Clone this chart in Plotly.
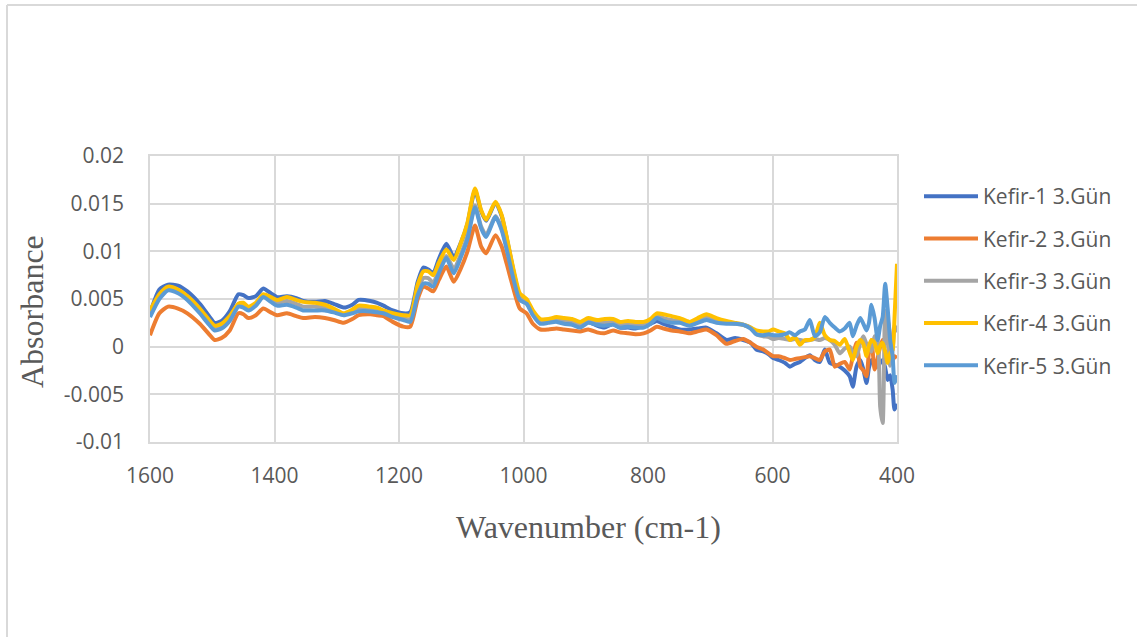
import plotly.graph_objects as go

# ---------------- data ----------------
wavenumber = [
    1600, 1585, 1571, 1555, 1540, 1520, 1505, 1496, 1485, 1472, 1458, 1450, 1442, 1430, 1418, 1406,
    1396, 1380, 1365, 1354, 1335, 1319, 1305, 1289, 1275, 1265, 1246, 1235, 1225, 1210, 1193, 1182,
    1170, 1161, 1153, 1145, 1136, 1124, 1112, 1100, 1090, 1078, 1068, 1060, 1045, 1035, 1027, 1015, 1006, 995,
    985, 973, 960, 947, 935, 922, 909, 896, 882, 870, 856, 845, 832, 820, 807, 796, 786, 775, 762, 749,
    733, 720, 706, 690, 674, 660, 647, 635, 626, 615,
    606, 599, 590, 580, 572, 564, 556, 548, 540, 532, 524, 516, 508, 500, 492, 484, 476, 471, 465, 459,
    454, 449, 445, 441, 436, 431, 427, 423, 419, 415, 411, 407, 404, 400,
]

kefir1 = [
    0.0035, 0.0060, 0.0065, 0.0064, 0.0058, 0.0045, 0.0032, 0.0025, 0.0027, 0.0037, 0.0055, 0.0054, 0.0051, 0.0053, 0.0061, 0.0056,
    0.0052, 0.0053, 0.0051, 0.0048, 0.0047, 0.0048, 0.0045, 0.0041, 0.0044, 0.0049, 0.0048, 0.0046, 0.0043, 0.0038, 0.0035, 0.0036,
    0.0068, 0.0083, 0.0081, 0.0077, 0.0092, 0.0108, 0.0094, 0.0110, 0.0129, 0.0164, 0.0142, 0.0132, 0.0151, 0.0137, 0.0114, 0.0076, 0.0053, 0.0048,
    0.0035, 0.0026, 0.0026, 0.0028, 0.0026, 0.0025, 0.0022, 0.0026, 0.0022, 0.0020, 0.0024, 0.0020, 0.0020, 0.0019, 0.0022, 0.0024, 0.0027, 0.0024, 0.0021, 0.0018,
    0.0018, 0.0019, 0.0020, 0.0014, 0.0007, 0.0009, 0.0007, 0.0004, -0.0003, -0.0005,
    -0.0008, -0.0012, -0.0014, -0.0017, -0.0021, -0.0018, -0.0016, -0.0012, -0.0009, -0.0014, -0.0016, -0.0003, -0.0017, -0.0019, -0.0021, -0.0025, -0.0031, -0.0042, -0.0021, -0.0014,
    -0.0024, -0.0038, -0.0022, -0.0014, -0.0019, -0.0021, -0.0017, -0.0014, -0.0022, -0.0035, -0.0030, -0.0045, -0.0066, -0.0060,
]

kefir2 = [
    0.0012, 0.0035, 0.0042, 0.0040, 0.0035, 0.0024, 0.0013, 0.0007, 0.0009, 0.0017, 0.0035, 0.0034, 0.0030, 0.0033, 0.0040, 0.0036,
    0.0033, 0.0035, 0.0032, 0.0030, 0.0031, 0.0030, 0.0028, 0.0025, 0.0029, 0.0033, 0.0034, 0.0033, 0.0032, 0.0026, 0.0021, 0.0021,
    0.0050, 0.0063, 0.0061, 0.0058, 0.0070, 0.0084, 0.0068, 0.0083, 0.0100, 0.0127, 0.0105, 0.0098, 0.0117, 0.0105, 0.0087, 0.0058, 0.0040, 0.0035,
    0.0024, 0.0018, 0.0018, 0.0019, 0.0018, 0.0017, 0.0016, 0.0018, 0.0015, 0.0014, 0.0017, 0.0015, 0.0014, 0.0013, 0.0014, 0.0017, 0.0021, 0.0019, 0.0017, 0.0016,
    0.0014, 0.0016, 0.0018, 0.0012, 0.0003, 0.0006, 0.0008, 0.0004, 0.0000, -0.0003,
    -0.0007, -0.0010, -0.0010, -0.0012, -0.0014, -0.0013, -0.0012, -0.0011, -0.0010, -0.0012, -0.0014, -0.0005, -0.0003, -0.0021, -0.0018, -0.0016, -0.0024, -0.0010, 0.0004, -0.0021,
    -0.0025, -0.0031, -0.0005, 0.0007, -0.0024, -0.0012, 0.0000, 0.0007, 0.0005, 0.0028, 0.0010, -0.0014, -0.0010, -0.0012,
]

kefir3 = [
    0.0033, 0.0052, 0.0060, 0.0057, 0.0050, 0.0037, 0.0025, 0.0019, 0.0021, 0.0029, 0.0043, 0.0043, 0.0040, 0.0044, 0.0053, 0.0049,
    0.0046, 0.0048, 0.0045, 0.0042, 0.0042, 0.0041, 0.0038, 0.0034, 0.0037, 0.0040, 0.0040, 0.0039, 0.0037, 0.0033, 0.0030, 0.0029,
    0.0058, 0.0072, 0.0072, 0.0067, 0.0080, 0.0095, 0.0082, 0.0098, 0.0116, 0.0148, 0.0126, 0.0117, 0.0137, 0.0124, 0.0104, 0.0071, 0.0051, 0.0046,
    0.0035, 0.0026, 0.0027, 0.0029, 0.0028, 0.0027, 0.0023, 0.0027, 0.0025, 0.0025, 0.0026, 0.0023, 0.0024, 0.0023, 0.0023, 0.0027, 0.0032, 0.0030, 0.0028, 0.0027,
    0.0024, 0.0027, 0.0031, 0.0027, 0.0025, 0.0024, 0.0023, 0.0020, 0.0013, 0.0011,
    0.0010, 0.0008, 0.0009, 0.0008, 0.0007, 0.0008, 0.0007, 0.0006, 0.0007, 0.0008, 0.0007, 0.0009, 0.0007, 0.0002, -0.0007, -0.0002, 0.0000, -0.0006, -0.0010, 0.0004,
    0.0011, 0.0003, 0.0000, -0.0005, 0.0011, 0.0006, -0.0063, -0.0080, 0.0038, 0.0012, -0.0020, -0.0004, 0.0022, 0.0015,
]

kefir4 = [
    0.0038, 0.0055, 0.0063, 0.0060, 0.0053, 0.0040, 0.0028, 0.0022, 0.0024, 0.0032, 0.0045, 0.0046, 0.0042, 0.0046, 0.0055, 0.0052,
    0.0049, 0.0052, 0.0049, 0.0047, 0.0046, 0.0044, 0.0040, 0.0035, 0.0039, 0.0043, 0.0042, 0.0041, 0.0038, 0.0035, 0.0033, 0.0033,
    0.0065, 0.0079, 0.0079, 0.0075, 0.0088, 0.0102, 0.0091, 0.0110, 0.0130, 0.0166, 0.0143, 0.0133, 0.0152, 0.0138, 0.0115, 0.0078, 0.0056, 0.0050,
    0.0038, 0.0029, 0.0029, 0.0031, 0.0030, 0.0029, 0.0026, 0.0030, 0.0028, 0.0029, 0.0029, 0.0026, 0.0027, 0.0026, 0.0026, 0.0029, 0.0035, 0.0034, 0.0032, 0.0030,
    0.0026, 0.0030, 0.0034, 0.0030, 0.0027, 0.0025, 0.0023, 0.0020, 0.0017, 0.0016,
    0.0016, 0.0018, 0.0016, 0.0014, 0.0007, 0.0010, 0.0002, 0.0007, 0.0007, 0.0010, 0.0025, 0.0012, 0.0007, 0.0006, 0.0002, 0.0008, -0.0006, -0.0014, 0.0000, 0.0007,
    0.0003, -0.0010, 0.0001, 0.0007, 0.0004, -0.0007, 0.0001, 0.0004, -0.0005, -0.0017, -0.0007, -0.0003, 0.0030, 0.0087,
]

kefir5 = [
    0.0031, 0.0050, 0.0059, 0.0056, 0.0049, 0.0035, 0.0023, 0.0017, 0.0019, 0.0027, 0.0042, 0.0041, 0.0038, 0.0043, 0.0052, 0.0047,
    0.0043, 0.0044, 0.0041, 0.0038, 0.0038, 0.0038, 0.0036, 0.0033, 0.0035, 0.0037, 0.0037, 0.0036, 0.0035, 0.0031, 0.0028, 0.0026,
    0.0054, 0.0066, 0.0066, 0.0063, 0.0077, 0.0093, 0.0077, 0.0095, 0.0113, 0.0146, 0.0124, 0.0115, 0.0136, 0.0122, 0.0102, 0.0068, 0.0049, 0.0045,
    0.0033, 0.0024, 0.0025, 0.0026, 0.0024, 0.0023, 0.0020, 0.0025, 0.0023, 0.0022, 0.0023, 0.0020, 0.0021, 0.0020, 0.0020, 0.0024, 0.0030, 0.0027, 0.0025, 0.0025,
    0.0022, 0.0025, 0.0028, 0.0025, 0.0024, 0.0024, 0.0023, 0.0019, 0.0013, 0.0012,
    0.0013, 0.0012, 0.0012, 0.0013, 0.0015, 0.0012, 0.0016, 0.0018, 0.0028, 0.0011, 0.0015, 0.0031, 0.0025, 0.0020, 0.0016, 0.0019, 0.0025, 0.0011, 0.0022, 0.0030,
    0.0024, 0.0017, 0.0025, 0.0044, 0.0030, 0.0007, 0.0022, 0.0031, 0.0066, 0.0040, 0.0007, -0.0010, -0.0038, -0.0030,
]

series_names = ["Kefir-1 3.Gün", "Kefir-2 3.Gün", "Kefir-3 3.Gün", "Kefir-4 3.Gün", "Kefir-5 3.Gün"]
series_values = [kefir1, kefir2, kefir3, kefir4, kefir5]
series_colors = ["#4472C4", "#ED7D31", "#A5A5A5", "#FFC000", "#5B9BD5"]

x_tick_values = [1600, 1400, 1200, 1000, 800, 600, 400]
x_tick_labels = ["1600", "1400", "1200", "1000", "800", "600", "400"]
y_tick_values = [0.02, 0.015, 0.01, 0.005, 0, -0.005, -0.01]
y_tick_labels = ["0.02", "0.015", "0.01", "0.005", "0", "-0.005", "-0.01"]

for v in series_values:
    assert len(v) == len(wavenumber), (len(v), len(wavenumber))

# ---------------- figure ----------------
W, H = 1137, 637
L, R, T, B = 150, 897, 156, 442

fig = go.Figure()
for i, (name, vals, col) in enumerate(zip(series_names, series_values, series_colors)):
    fig.add_trace(go.Scatter(
        x=wavenumber, y=vals, name=name, mode="lines",
        line=dict(color=col, width=4, shape="spline", smoothing=0.6),
        legendgroup=f"g{i}",
    ))

tick_font = dict(family="Open Sans, Liberation Sans, sans-serif", size=21, color="#595959")
grid_col = "#D9D9D9"

fig.update_layout(
    width=W, height=H,
    margin=dict(l=L, r=W - R, t=T, b=H - B, pad=0),
    paper_bgcolor="white", plot_bgcolor="white",
    showlegend=True,
    legend=dict(
        x=(919 - L) / (R - L), xanchor="left",
        y=(B - 281) / (B - T), yanchor="middle",
        font=tick_font, traceorder="grouped", tracegroupgap=12,
        itemwidth=54,
        bgcolor="rgba(0,0,0,0)",
    ),
    xaxis=dict(
        range=[1600, 400], tickmode="array", tickvals=x_tick_values, ticktext=x_tick_labels,
        showgrid=True, gridcolor=grid_col, gridwidth=1.5, zeroline=False,
        showline=True, linecolor=grid_col, linewidth=1.5, mirror=True,
        ticks="", tickfont=tick_font, ticklabelstandoff=14,
    ),
    yaxis=dict(
        range=[-0.01, 0.02], tickmode="array", tickvals=y_tick_values, ticktext=y_tick_labels,
        showgrid=True, gridcolor=grid_col, gridwidth=1.5, zeroline=False,
        showline=True, linecolor=grid_col, linewidth=1.5, mirror=True,
        ticks="", tickfont=tick_font, ticklabelstandoff=20,
    ),
    annotations=[
        dict(text="Absorbance", xref="paper", yref="paper",
             x=(32 - L) / (R - L), y=(B - 312) / (B - T), xanchor="center", yanchor="middle",
             textangle=-90, showarrow=False,
             font=dict(family="Liberation Serif, Times New Roman, serif", size=32, color="#595959")),
        dict(text="Wavenumber (cm-1)", xref="paper", yref="paper",
             x=(588 - L) / (R - L), y=(B - 527) / (B - T), xanchor="center", yanchor="middle",
             showarrow=False,
             font=dict(family="Liberation Serif, Times New Roman, serif", size=32, color="#595959")),
    ],
    shapes=[
        dict(type="line", xref="paper", yref="paper",
             x0=(7 - L) / (R - L), x1=(W + 20 - L) / (R - L),
             y0=(B - 5) / (B - T), y1=(B - 5) / (B - T),
             line=dict(color="#D9D9D9", width=2)),
        dict(type="line", xref="paper", yref="paper",
             x0=(7 - L) / (R - L), x1=(7 - L) / (R - L),
             y0=(B - 5) / (B - T), y1=(B - H - 20) / (B - T),
             line=dict(color="#D9D9D9", width=2)),
    ],
)

fig.write_html("out.html")
